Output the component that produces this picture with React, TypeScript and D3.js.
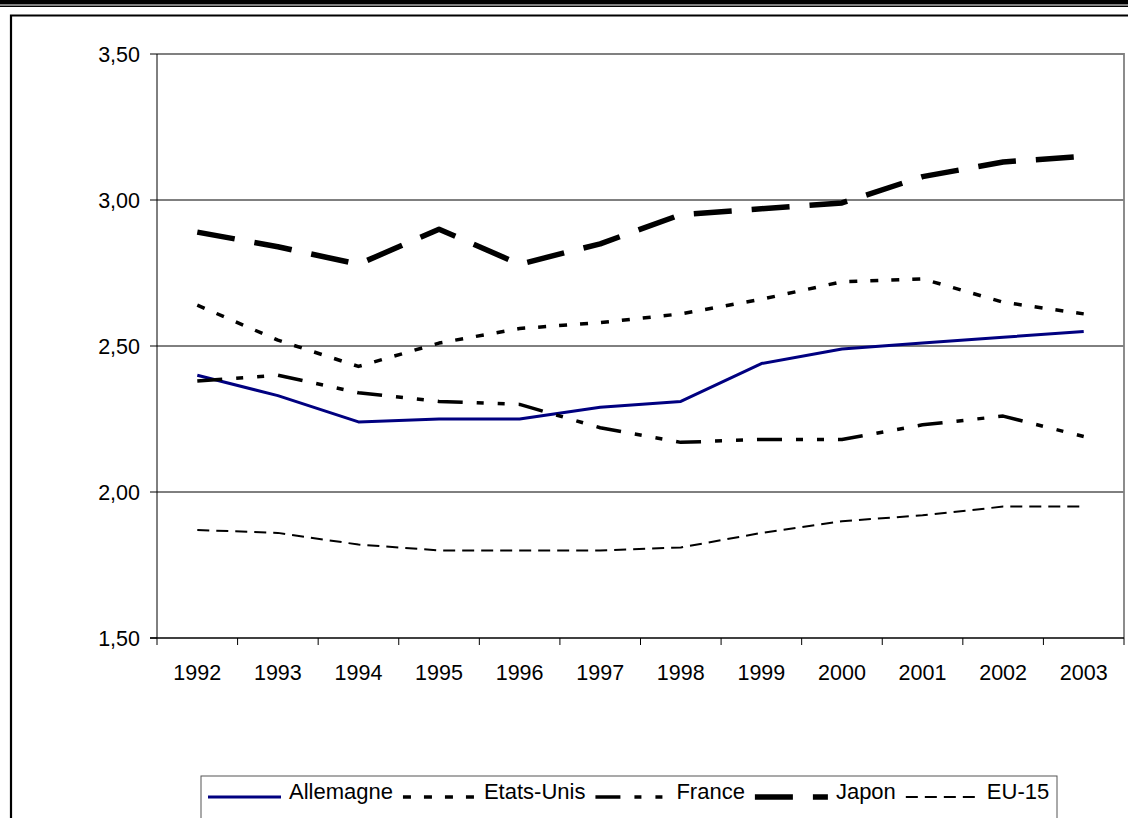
import * as d3 from "d3";

const years = ["1992", "1993", "1994", "1995", "1996", "1997", "1998", "1999", "2000", "2001", "2002", "2003"];
const yTicks = [1.5, 2.0, 2.5, 3.0, 3.5];

const allemagne = [2.40, 2.33, 2.24, 2.25, 2.25, 2.29, 2.31, 2.44, 2.49, 2.51, 2.53, 2.55];
const etatsUnis = [2.64, 2.52, 2.43, 2.51, 2.56, 2.58, 2.61, 2.66, 2.72, 2.73, 2.65, 2.61];
const france = [2.38, 2.40, 2.34, 2.31, 2.30, 2.22, 2.17, 2.18, 2.18, 2.23, 2.26, 2.19];
const japon = [2.89, 2.84, 2.78, 2.90, 2.78, 2.85, 2.95, 2.97, 2.99, 3.08, 3.13, 3.15];
const eu15 = [1.87, 1.86, 1.82, 1.80, 1.80, 1.80, 1.81, 1.86, 1.90, 1.92, 1.95, 1.95];

const series = [
  { name: "Allemagne", values: allemagne, color: "#000080", width: 3, dash: "" },
  { name: "Etats-Unis", values: etatsUnis, color: "#000", width: 3.5, dash: "8,13" },
  { name: "France", values: france, color: "#000", width: 3.5, dash: "25,14,7,14,7,14" },
  { name: "Japon", values: japon, color: "#000", width: 5.5, dash: "38,20" },
  { name: "EU-15", values: eu15, color: "#000", width: 2, dash: "12,7" },
];

const W = 1128;
const H = 818;
const FONT = "'Liberation Sans', Arial, sans-serif";
const plot = { left: 157, right: 1124, top: 54, bottom: 638 };

function textWidth(s: string, size: number) {
  const c = document.createElement("canvas").getContext("2d");
  if (!c) return s.length * size * 0.5;
  c.font = `${size}px 'Liberation Sans'`;
  return c.measureText(s).width;
}

export default function App() {
  const x = d3.scaleBand().domain(years).range([plot.left, plot.right]);
  const y = d3.scaleLinear().domain([1.5, 3.5]).range([plot.bottom, plot.top]);
  const cx = (i: number) => (x(years[i]) ?? 0) + x.bandwidth() / 2;

  const line = d3
    .line<number>()
    .x((_, i) => cx(i))
    .y((d) => y(d));

  // legend layout, sequential
  const legSize = 22;
  const sampleW = 73;
  let lx = 208;
  const legend = series.map((s) => {
    const item = { ...s, x0: lx, tx: lx + sampleW + 8 };
    lx = item.tx + textWidth(s.name, legSize) + 10;
    return item;
  });

  return (
    <svg
      width={W}
      height={H}
      style={{ position: "absolute", left: 0, top: 0, background: "#fff" }}
      fontFamily={FONT}
    >
      {/* outer frame */}
      <rect x={0} y={0} width={W} height={4.5} fill="#000" />
      <rect x={0} y={5.5} width={W} height={1.5} fill="#000" />
      <path d={`M11,${H} V15.5 H${W}`} fill="none" stroke="#000" strokeWidth={2.2} />

      {/* gridlines */}
      {yTicks.slice(1, -1).map((t) => (
        <line key={t} x1={plot.left} x2={plot.right} y1={y(t)} y2={y(t)} stroke="#000" strokeWidth={1} />
      ))}
      {/* plot border top/right */}
      <path
        d={`M${plot.left},${plot.top} H${plot.right} V${plot.bottom}`}
        fill="none"
        stroke="#808080"
        strokeWidth={1.8}
      />

      {/* axes */}
      <line x1={plot.left} x2={plot.left} y1={plot.top} y2={plot.bottom} stroke="#000" strokeWidth={1} />
      <line x1={plot.left - 7} x2={plot.right} y1={plot.bottom} y2={plot.bottom} stroke="#000" strokeWidth={1.3} />
      {yTicks.map((t) => (
        <g key={t}>
          <line x1={plot.left - 7} x2={plot.left} y1={y(t)} y2={y(t)} stroke="#000" strokeWidth={1} />
          <text x={140} y={y(t) + 7.5} textAnchor="end" fontSize={21.5}>
            {d3.format(".2f")(t).replace(".", ",")}
          </text>
        </g>
      ))}
      {years.map((yr) => (
        <line
          key={"t" + yr}
          x1={x(yr) ?? 0}
          x2={x(yr) ?? 0}
          y1={plot.bottom}
          y2={plot.bottom + 7}
          stroke="#000"
          strokeWidth={1}
        />
      ))}
      <line x1={plot.right} x2={plot.right} y1={plot.bottom} y2={plot.bottom + 7} stroke="#000" strokeWidth={1} />
      {years.map((yr, i) => (
        <text key={yr} x={cx(i)} y={680} textAnchor="middle" fontSize={21.5}>
          {yr}
        </text>
      ))}

      {/* series */}
      {series.map((s) => (
        <path
          key={s.name}
          d={line(s.values) ?? ""}
          fill="none"
          stroke={s.color}
          strokeWidth={s.width}
          strokeDasharray={s.dash || undefined}
          strokeLinejoin="round"
        />
      ))}

      {/* legend */}
      <rect x={201} y={776} width={856} height={80} fill="#fff" stroke="#555" strokeWidth={1} />
      {legend.map((s) => (
        <g key={"l" + s.name}>
          <line
            x1={s.x0}
            x2={s.x0 + sampleW}
            y1={797}
            y2={797}
            stroke={s.color}
            strokeWidth={s.width}
            strokeDasharray={s.dash || undefined}
          />
          <text x={s.tx} y={799} fontSize={legSize}>
            {s.name}
          </text>
        </g>
      ))}
    </svg>
  );
}
